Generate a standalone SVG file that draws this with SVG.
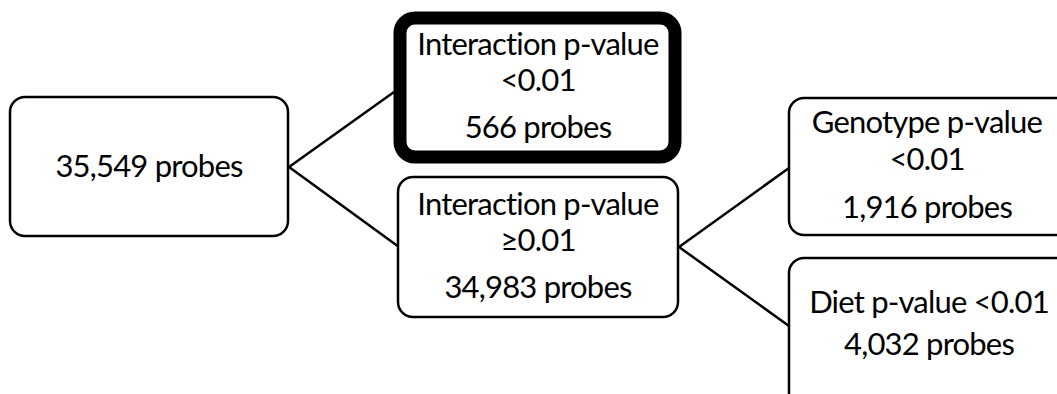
<svg xmlns="http://www.w3.org/2000/svg" width="1057" height="394" viewBox="0 0 1057 394">
<style>
.box{fill:#fff;stroke:#000;stroke-width:2.5}
.thick{fill:#fff;stroke:#000;stroke-width:13}
.conn{stroke:#000;stroke-width:2.5;fill:none}
text{font-family:Lato,"Liberation Sans",sans-serif;font-size:31px;letter-spacing:-0.8px;font-variant-ligatures:none;fill:#000;text-anchor:middle}
</style>
<rect width="1057" height="394" fill="#fff"/>
<g id="connectors">
<line class="conn" x1="289" y1="167" x2="394" y2="92"/>
<line class="conn" x1="289" y1="167" x2="399" y2="247"/>
<line class="conn" x1="679" y1="247" x2="789" y2="168"/>
<line class="conn" x1="679" y1="247" x2="789" y2="326"/>
</g>
<g id="n1">
<rect class="box" x="10" y="97" width="278" height="139" rx="15"/>
<text x="149" y="177">35,549 probes</text>
</g>
<g id="n2">
<rect class="thick" x="400" y="18" width="275" height="139" rx="15"/>
<text x="538" y="55">Interaction p-value</text>
<text x="538" y="91">&lt;0.01</text>
<text x="538" y="138">566 probes</text>
</g>
<g id="n3">
<rect class="box" x="398" y="177" width="280" height="140" rx="15"/>
<text x="538" y="215">Interaction p-value</text>
<text x="538" y="251">≥0.01</text>
<text x="538" y="298">34,983 probes</text>
</g>
<g id="n4">
<rect class="box" x="789" y="98" width="290" height="137" rx="15"/>
<text x="927" y="133">Genotype p-value</text>
<text x="927" y="170">&lt;0.01</text>
<text x="927" y="218">1,916 probes</text>
</g>
<g id="n5">
<rect class="box" x="789" y="258" width="290" height="160" rx="15"/>
<text x="929" y="313">Diet p-value &lt;0.01</text>
<text x="929" y="355">4,032 probes</text>
</g>
</svg>
